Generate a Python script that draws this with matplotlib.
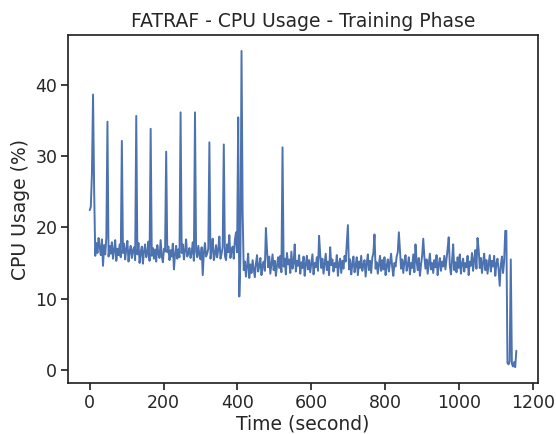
import numpy as np
import matplotlib
matplotlib.use("Agg")
import matplotlib.pyplot as plt
import seaborn as sns

# sampling step of the readings (seconds)
STEP = 3

# CPU usage (%), one value every 3 s
cpu_usage = [
    22.4, 22.9, 27.5, 38.6, 25.2, 16.0, 17.8, 16.4, 18.5, 17.2,
    16.1, 18.3, 14.6, 17.5, 16.2, 18.6, 34.8, 15.9, 17.4, 16.3,
    17.9, 15.6, 16.8, 18.2, 15.3, 17.0, 16.1, 17.6, 15.8, 32.1,
    16.4, 17.7, 15.5, 16.9, 18.1, 15.2, 16.6, 17.4, 15.7, 16.8,
    17.2, 15.4, 35.6, 16.2, 17.8, 15.0, 16.5, 17.3, 14.9, 16.7,
    17.6, 15.8, 16.4, 18.0, 15.3, 33.8, 16.0, 17.1, 15.6, 16.9,
    15.2, 17.5, 16.3, 15.7, 18.2, 16.0, 15.1, 17.0, 16.6, 30.6,
    16.5, 17.3, 15.4, 16.8, 15.9, 17.7, 14.1, 16.2, 17.4, 15.6,
    16.9, 15.8, 36.1, 16.4, 17.6, 15.5, 16.7, 18.3, 15.9, 16.3,
    17.1, 15.7, 16.5, 17.9, 15.3, 36.1, 16.6, 15.8, 17.4, 16.1,
    15.5, 17.2, 13.3, 16.4, 17.8, 15.9, 16.3, 17.0, 31.9, 15.6,
    16.8, 18.4, 15.4, 16.2, 17.5, 15.8, 16.9, 18.7, 15.6, 16.3,
    17.2, 31.6, 16.0, 15.4, 17.6, 16.5, 18.9, 15.7, 16.8, 17.3,
    15.6, 18.2, 19.3, 16.5, 35.4, 10.3, 15.8, 44.7, 22.0, 14.0,
    15.2, 13.1, 14.6, 16.3, 12.9, 14.8, 13.6, 15.4, 14.2, 13.0,
    14.9, 16.1, 13.8, 14.5, 15.7, 13.3, 14.7, 15.2, 13.9, 19.9,
    16.8, 14.4, 15.9, 13.5, 14.8, 16.2, 14.0, 15.3, 13.2, 14.6,
    15.8, 14.3, 16.0, 13.7, 31.2, 14.5, 15.6, 13.4, 16.4, 14.8,
    15.5, 13.6, 16.6, 14.2, 15.0, 17.6, 13.8, 15.3, 14.6, 16.1,
    13.5, 15.1, 14.3, 15.9, 13.2, 14.8, 16.0, 14.1, 15.4, 13.7,
    14.9, 16.2, 13.4, 15.0, 14.4, 15.8, 13.9, 18.8, 16.2, 14.3,
    15.6, 13.5, 14.9, 16.3, 14.0, 15.2, 13.3, 17.2, 14.7, 15.5,
    13.8, 15.0, 14.4, 16.1, 13.2, 14.9, 15.6, 13.6, 15.3, 14.2,
    16.0, 15.2, 17.8, 20.3, 14.1, 15.5, 13.4, 14.8, 15.9, 13.7,
    14.6, 15.8, 13.3, 15.2, 14.3, 16.0, 13.9, 14.7, 15.4, 13.1,
    14.9, 16.2, 14.0, 15.3, 13.6, 15.7, 16.4, 19.0, 14.2, 15.1,
    13.5, 14.8, 16.0, 13.9, 15.4, 14.1, 15.8, 13.3, 14.6, 15.5,
    13.8, 15.1, 16.3, 14.4, 13.2, 15.0, 14.5, 15.9, 16.5, 19.3,
    16.8, 14.2, 15.5, 13.6, 15.2, 16.1, 13.9, 14.7, 15.8, 13.4,
    15.0, 14.3, 16.2, 13.7, 17.6, 15.3, 14.0, 15.7, 13.2, 14.8,
    16.0, 18.4, 15.9, 14.2, 15.5, 13.5, 14.9, 16.3, 14.1, 15.0,
    13.6, 15.4, 14.4, 16.1, 13.3, 14.8, 15.7, 13.9, 15.2, 14.5,
    16.0, 14.1, 15.5, 17.0, 18.6, 14.6, 13.4, 15.3, 17.6, 14.0,
    15.1, 13.7, 15.8, 14.3, 16.2, 13.5, 14.9, 15.6, 13.8, 15.0,
    14.4, 16.0, 13.3, 15.2, 14.6, 16.4, 13.9, 15.5, 16.8, 14.2,
    18.5, 16.9, 14.3, 15.7, 13.6, 15.1, 16.3, 14.0, 15.4, 13.5,
    14.8, 16.1, 13.8, 15.3, 14.5, 16.0, 13.2, 14.9, 15.6, 14.1,
    11.8, 14.7, 15.9, 13.6, 15.2, 19.5, 19.5, 1.0, 0.8, 1.2,
    15.5, 0.9, 0.5, 1.1, 0.4, 2.7,
]
time_s = np.arange(len(cpu_usage)) * STEP

sns.set_theme(style="ticks")
plt.rcParams['font.family'] = ['DejaVu Sans']

fig, ax = plt.subplots(figsize=(5.56, 4.34), dpi=100)
fig.subplots_adjust(left=0.123, right=0.967, top=0.919, bottom=0.1175)

ax.plot(time_s, cpu_usage, color="#4C72B0", linewidth=1.4)

ax.set_title("FATRAF - CPU Usage - Training Phase", fontsize=13.5)
ax.set_xlabel("Time (second)", fontsize=13.5, labelpad=1.5)
ax.set_ylabel("CPU Usage (%)", fontsize=13.5)
ax.tick_params(labelsize=12.5, length=5, pad=3)
ax.set_xticks([0, 200, 400, 600, 800, 1000, 1200])

fig.savefig("out.png", dpi=100)
